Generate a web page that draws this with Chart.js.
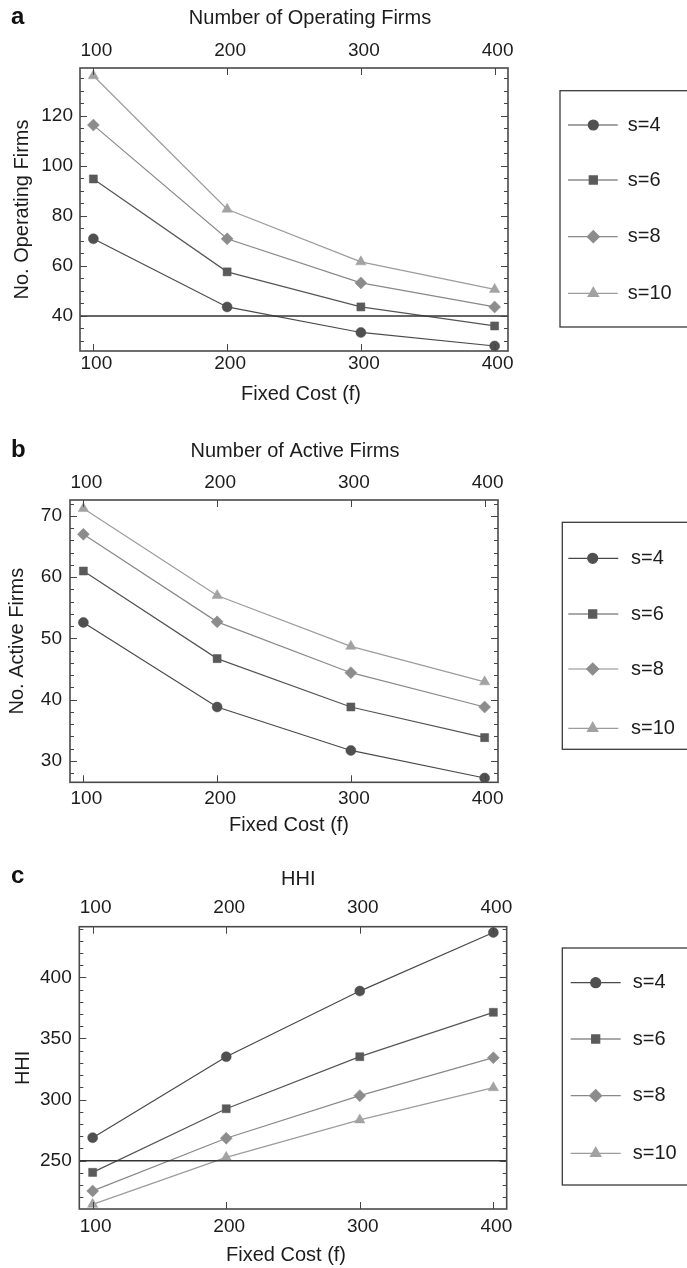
<!DOCTYPE html>
<html>
<head>
<meta charset="utf-8">
<script src="https://cdn.jsdelivr.net/npm/chart.js@4/dist/chart.umd.min.js"></script>
<style>
  html, body { margin: 0; padding: 0; background: #fff; }
  #page { position: relative; width: 687px; height: 1268px; overflow: hidden; }
  .panel { position: absolute; left: 0; width: 687px; }
  canvas { display: block; }
</style>
</head>
<body>
<div id="page">
  <div class="panel" style="top:0;height:420px"><canvas id="chartA" width="687" height="420"></canvas></div>
  <div class="panel" style="top:420px;height:420px"><canvas id="chartB" width="687" height="420"></canvas></div>
  <div class="panel" style="top:840px;height:428px"><canvas id="chartC" width="687" height="428"></canvas></div>
</div>
<script>
// ---------- data ----------
const fixedCost = [100, 200, 300, 400];
const xTicks = [100, 200, 300, 400];
const xBounds = [90, 410];
const seriesLabels = ["s=4", "s=6", "s=8", "s=10"];

// (a) number of operating firms
const operS4 = [70.8, 43.6, 33.4, 28.0];
const operS6 = [94.7, 57.6, 43.6, 36.0];
const operS8 = [116.2, 70.8, 53.2, 43.6];
const operS10 = [135.9, 82.6, 61.6, 50.6];
const operTicks = [40, 60, 80, 100, 120];
const operRange = [26, 139];
const operRef = 40;

// (b) number of active firms
const activeS4 = [52.6, 38.8, 31.7, 27.2];
const activeS6 = [61.0, 46.7, 38.8, 33.8];
const activeS8 = [67.0, 52.7, 44.4, 38.8];
const activeS10 = [71.2, 57.0, 48.7, 42.9];
const activeTicks = [30, 40, 50, 60, 70];
const activeRange = [26.5, 72.6];

// (c) HHI
const hhiS4 = [268.8, 335.1, 388.8, 436.8];
const hhiS6 = [240.4, 292.5, 335.1, 371.4];
const hhiS8 = [225.2, 268.3, 303.2, 334.3];
const hhiS10 = [214.2, 252.7, 283.3, 309.7];
const hhiTicks = [250, 300, 350, 400];
const hhiRange = [210.4, 441.5];
const hhiRef = 250;

const xTitle = "Fixed Cost (f)";

// ---------- styles ----------
const FONT = '"Liberation Sans", Arial, Helvetica, sans-serif';
const TEXT = "#1c1c1c";
const seriesStyles = [
  { pointStyle: "circle",   radius: 5,   line: "#4a4a4a", fill: "#505050" },
  { pointStyle: "rect",     radius: 5.7, line: "#555555", fill: "#5a5a5a" },
  { pointStyle: "rectRot",  radius: 6,   line: "#898989", fill: "#8c8c8c" },
  { pointStyle: "triangle", radius: 6,   line: "#9c9c9c", fill: "#a2a2a2" }
];

// frame, inward ticks, titles, legend box and panel letter
const framePlugin = {
  id: "frame",
  afterDraw(chart, args, o) {
    const { ctx, chartArea: a, scales } = chart;
    const ys = scales.y, xs = scales.x;
    ctx.save();
    ctx.strokeStyle = "#444";
    ctx.lineWidth = 1;
    ctx.beginPath();
    // y ticks, both sides
    const step = o.minorStep;
    for (let k = Math.ceil(ys.min / step); k * step <= ys.max; k++) {
      const v = k * step;
      const py = Math.round(ys.getPixelForValue(v)) + 0.5;
      const len = o.majors.includes(v) ? 7 : 4;
      ctx.moveTo(a.left, py); ctx.lineTo(a.left + len, py);
      ctx.moveTo(a.right, py); ctx.lineTo(a.right - len, py);
    }
    // x ticks, top and bottom
    xTicks.forEach(v => {
      const px = Math.round(xs.getPixelForValue(v)) + 0.5;
      ctx.moveTo(px, a.top); ctx.lineTo(px, a.top + 7);
      ctx.moveTo(px, a.bottom); ctx.lineTo(px, a.bottom - 7);
    });
    ctx.stroke();

    ctx.lineWidth = 1.6;
    ctx.strokeStyle = "#4a4a4a";
    ctx.strokeRect(a.left, a.top, a.right - a.left, a.bottom - a.top);

    // top / bottom axis titles (slightly off-centre in the original)
    ctx.fillStyle = TEXT;
    ctx.font = "20px " + FONT;
    ctx.textAlign = "center";
    ctx.textBaseline = "middle";
    ctx.fillText(o.topTitle, o.topTitlePos[0], o.topTitlePos[1]);
    ctx.fillText(xTitle, o.bottomTitlePos[0], o.bottomTitlePos[1]);

    // legend
    const lg = o.legend;
    ctx.lineWidth = 1.3;
    ctx.strokeStyle = "#3a3a3a";
    ctx.strokeRect(lg.x, lg.y, chart.width - lg.x + 10, lg.bottom - lg.y);
    seriesLabels.forEach((label, i) => {
      const st = seriesStyles[i];
      const y = lg.items[i];
      ctx.lineWidth = 1.2;
      ctx.strokeStyle = st.line;
      ctx.beginPath();
      ctx.moveTo(lg.lineX[0], y); ctx.lineTo(lg.lineX[1], y);
      ctx.stroke();
      ctx.fillStyle = st.fill;
      ctx.strokeStyle = st.fill;
      Chart.helpers.drawPoint(ctx, { pointStyle: st.pointStyle, radius: st.radius, rotation: 0, borderWidth: 0.5 }, lg.markerX, y);
      ctx.fillStyle = TEXT;
      ctx.font = "20px " + FONT;
      ctx.textBaseline = "middle";
      ctx.textAlign = "left";
      ctx.fillText(label, lg.textX, y);
    });

    // panel letter
    ctx.fillStyle = "#111";
    ctx.font = "bold 24px " + FONT;
    ctx.textBaseline = "alphabetic";
    ctx.textAlign = "left";
    ctx.fillText(o.letter, 11, o.letterY);
    ctx.restore();
  }
};

function buildChart(id, p, series) {
  const datasets = series.map((vals, i) => {
    const st = seriesStyles[i];
    return {
      label: seriesLabels[i],
      data: fixedCost.map((x, j) => ({ x, y: vals[j] })),
      borderColor: st.line,
      backgroundColor: st.fill,
      borderWidth: 1.2,
      pointStyle: st.pointStyle,
      pointRadius: st.radius,
      pointBackgroundColor: st.fill,
      pointBorderColor: st.fill,
      pointBorderWidth: 0.5,
      tension: 0
    };
  });
  if (p.ref != null) {
    datasets.unshift({
      label: "ref",
      data: xBounds.map(x => ({ x, y: p.ref })),
      borderColor: "#333",
      borderWidth: 1.5,
      pointRadius: 0
    });
  }

  const tickFont = { family: FONT, size: 19, lineHeight: 1 };
  const titleFont = { family: FONT, size: 20, lineHeight: 1.2 };
  const noGrid = { display: false, drawTicks: false };
  const setXTicks = s => { s.ticks = xTicks.map(v => ({ value: v })); };

  return new Chart(document.getElementById(id), {
    type: "line",
    data: { datasets },
    options: {
      responsive: false,
      devicePixelRatio: 1,
      animation: false,
      layout: { padding: { left: 0, top: 0, bottom: 0, right: 687 - p.area.r } },
      plugins: {
        legend: { display: false },
        tooltip: { enabled: false },
        frame: {
          minorStep: p.minorStep, majors: p.yTicks, legend: p.legend, letter: p.letter, letterY: p.letterY,
          topTitle: p.topTitle, topTitlePos: p.topTitlePos, bottomTitlePos: p.bottomTitlePos
        }
      },
      scales: {
        x: {
          type: "linear", position: "bottom", min: xBounds[0], max: xBounds[1],
          afterBuildTicks: setXTicks,
          afterFit: s => { s.height = p.H - p.area.b; },
          grid: noGrid, border: { display: false },
          ticks: { font: tickFont, color: TEXT, padding: p.bottomTickPad, labelOffset: 3, maxRotation: 0, autoSkip: false }
        },
        x2: {
          type: "linear", position: "top", min: xBounds[0], max: xBounds[1],
          afterBuildTicks: setXTicks,
          afterFit: s => { s.height = p.area.t; },
          grid: noGrid, border: { display: false },
          ticks: { font: tickFont, color: TEXT, padding: p.topTickPad, labelOffset: 3, maxRotation: 0, autoSkip: false }
        },
        y: {
          type: "linear", position: "left", min: p.yRange[0], max: p.yRange[1],
          afterBuildTicks: s => { s.ticks = p.yTicks.map(v => ({ value: v })); },
          afterFit: s => { s.width = p.area.l; },
          grid: noGrid, border: { display: false },
          ticks: { font: tickFont, color: TEXT, padding: p.yTickPad },
          title: { display: true, text: p.yTitle, font: titleFont, color: TEXT, padding: { top: p.yTitlePad, bottom: 0 } }
        }
      }
    },
    plugins: [framePlugin]
  });
}

buildChart("chartA", {
  H: 420, area: { l: 80, r: 508, t: 68, b: 351 },
  yRange: operRange, yTicks: operTicks, minorStep: 5, ref: operRef,
  yTitle: "No. Operating Firms", topTitle: "Number of Operating Firms",
  topTitlePos: [310, 18.7], bottomTitlePos: [301, 394.8],
  yTitlePad: 10, yTickPad: 7, topTickPad: 8, bottomTickPad: 3,
  legend: { x: 560, y: 90.7, bottom: 327, items: [125, 180, 236.7, 293.3], lineX: [568, 617.7], markerX: 593.3, textX: 627.7 },
  letter: "a", letterY: 24
}, [operS4, operS6, operS8, operS10]);

buildChart("chartB", {
  H: 420, area: { l: 70, r: 498, t: 80, b: 362.3 },
  yRange: activeRange, yTicks: activeTicks, minorStep: 2, ref: null,
  yTitle: "No. Active Firms", topTitle: "Number of Active Firms",
  topTitlePos: [295, 31.7], bottomTitlePos: [289, 405.8],
  yTitlePad: 5, yTickPad: 8, topTickPad: 8, bottomTickPad: 6.5,
  legend: { x: 562.3, y: 102.3, bottom: 329.3, items: [138.3, 194, 249, 308.3], lineX: [568.3, 618.3], markerX: 592.7, textX: 631 },
  letter: "b", letterY: 37
}, [activeS4, activeS6, activeS8, activeS10]);

buildChart("chartC", {
  H: 428, area: { l: 79.3, r: 506.7, t: 86.7, b: 369 },
  yRange: hhiRange, yTicks: hhiTicks, minorStep: 10, ref: hhiRef,
  yTitle: "HHI", topTitle: "HHI",
  topTitlePos: [298.3, 39], bottomTitlePos: [286, 415],
  yTitlePad: 11.3, yTickPad: 7.6, topTickPad: 9.7, bottomTickPad: 8.2,
  legend: { x: 562.3, y: 108, bottom: 345, items: [142.7, 199, 255.7, 313.3], lineX: [570.7, 620.7], markerX: 595.7, textX: 632.7 },
  letter: "c", letterY: 43.3
}, [hhiS4, hhiS6, hhiS8, hhiS10]);
</script>
</body>
</html>
